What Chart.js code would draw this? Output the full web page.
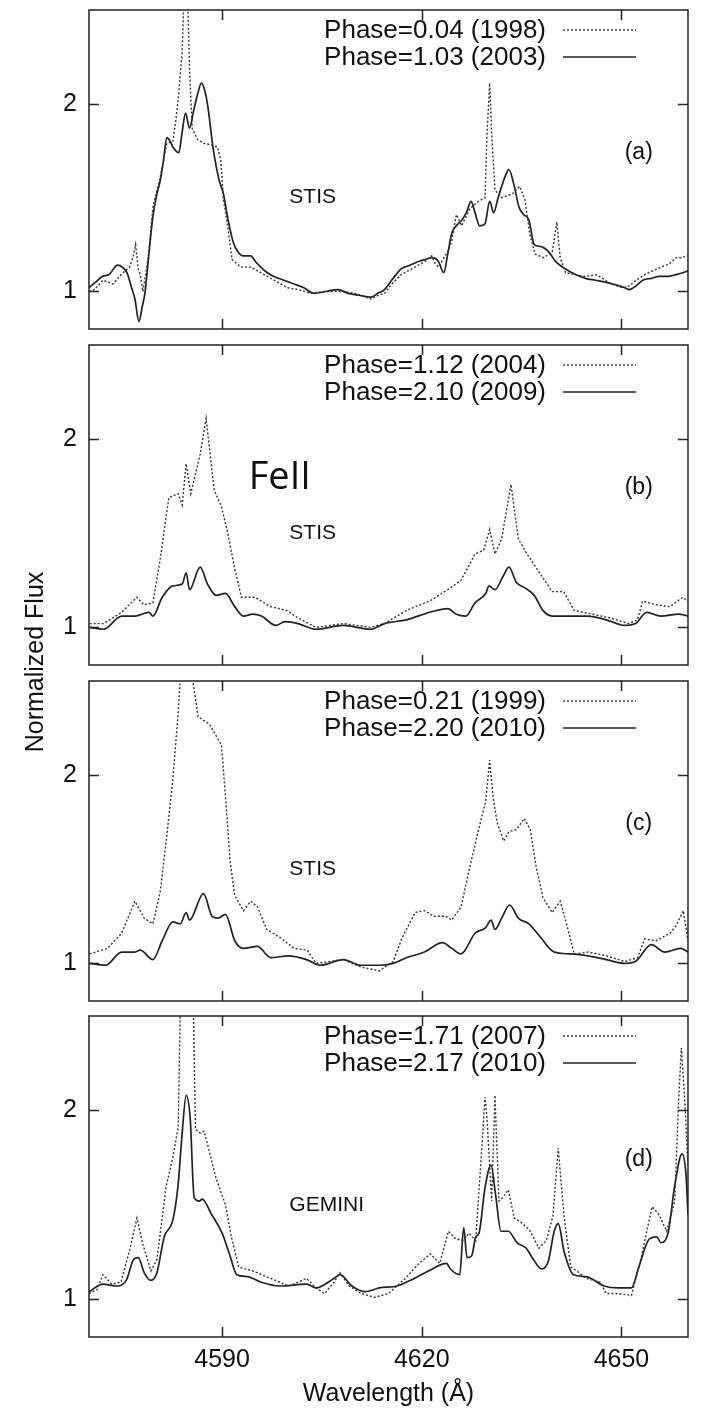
<!DOCTYPE html>
<html>
<head>
<meta charset="utf-8">
<title>Fe II spectra</title>
<script src="https://cdn.jsdelivr.net/npm/chart.js@4/dist/chart.umd.min.js"></script>
<style>
  html, body { margin: 0; padding: 0; background: #fff; }
  #figure { position: relative; width: 705px; height: 1409px; }
  #figure canvas { position: absolute; left: 0; top: 0; }
</style>
</head>
<body>
<div id="figure">
  <canvas id="panelA" width="705" height="1409"></canvas>
  <canvas id="panelB" width="705" height="1409"></canvas>
  <canvas id="panelC" width="705" height="1409"></canvas>
  <canvas id="panelD" width="705" height="1409"></canvas>
</div>
<script>
// axis ticks
const wavelengthTicks = [4590, 4620, 4650];
const fluxTicks = [1, 2];

// legend / panel text
const legendA = ['Phase=0.04 (1998)', 'Phase=1.03 (2003)'];
const legendB = ['Phase=1.12 (2004)', 'Phase=2.10 (2009)'];
const legendC = ['Phase=0.21 (1999)', 'Phase=2.20 (2010)'];
const legendD = ['Phase=1.71 (2007)', 'Phase=2.17 (2010)'];
const panelTags = ['(a)', '(b)', '(c)', '(d)'];
const instruments = ['STIS', 'STIS', 'STIS', 'GEMINI'];

// spectra: [wavelength (A), normalized flux]
const specA1998 = [
  [4570.0, 1.00], [4570.8, 1.01], [4572.1, 1.06], [4573.6, 1.04], [4575.1, 1.10], [4576.1, 1.13],
  [4576.6, 1.18], [4577.0, 1.25], [4577.4, 1.12], [4577.7, 1.09], [4578.1, 1.00], [4578.9, 1.18],
  [4579.6, 1.45], [4580.7, 1.61], [4581.7, 1.79], [4582.6, 1.80], [4583.0, 1.90], [4583.4, 2.02],
  [4584.0, 2.28], [4584.3, 2.60], [4584.6, 2.75], [4584.8, 2.60], [4585.1, 2.19], [4585.5, 1.87],
  [4586.3, 1.81], [4587.2, 1.79], [4588.5, 1.78], [4589.3, 1.77], [4589.8, 1.70], [4590.2, 1.49],
  [4590.8, 1.36], [4591.5, 1.17], [4592.8, 1.13], [4594.3, 1.13], [4595.8, 1.10], [4597.8, 1.06],
  [4599.8, 1.02], [4601.5, 1.01], [4603.3, 0.99], [4605.5, 1.00], [4608.0, 1.00], [4610.0, 0.99],
  [4611.5, 0.97], [4612.4, 0.96], [4613.5, 0.98], [4614.4, 0.99], [4615.5, 1.04], [4616.9, 1.09],
  [4618.5, 1.12], [4619.5, 1.14], [4620.5, 1.16], [4621.5, 1.19], [4622.0, 1.15], [4622.5, 1.13],
  [4624.0, 1.22], [4624.5, 1.27], [4625.2, 1.41], [4626.0, 1.35], [4627.2, 1.44], [4628.5, 1.48],
  [4629.5, 1.50], [4629.8, 1.84], [4630.2, 2.11], [4630.5, 1.84], [4631.0, 1.54], [4632.0, 1.50],
  [4633.6, 1.52], [4634.7, 1.56], [4635.5, 1.49], [4636.2, 1.31], [4637.0, 1.20], [4638.3, 1.18],
  [4639.6, 1.21], [4640.0, 1.30], [4640.3, 1.37], [4640.6, 1.25], [4640.8, 1.18], [4641.6, 1.10],
  [4643.0, 1.09], [4644.6, 1.08], [4646.2, 1.09], [4648.5, 1.04], [4650.2, 1.02], [4651.2, 1.03],
  [4652.2, 1.06], [4653.5, 1.09], [4654.7, 1.11], [4656.0, 1.13], [4657.3, 1.15], [4658.2, 1.18],
  [4659.0, 1.18], [4660.0, 1.19]
];
const specA2003 = [
  [4570.0, 1.02], [4571.0, 1.05], [4572.0, 1.08], [4573.0, 1.09], [4574.3, 1.14], [4575.0, 1.13],
  [4575.7, 1.10], [4576.4, 1.02], [4576.9, 0.96], [4577.5, 0.84], [4578.0, 0.92], [4578.4, 0.99],
  [4579.0, 1.20], [4579.6, 1.40], [4580.2, 1.52], [4580.7, 1.59], [4581.2, 1.70], [4581.7, 1.82],
  [4582.2, 1.80], [4582.6, 1.77], [4583.5, 1.74], [4584.0, 1.85], [4584.5, 1.95], [4585.1, 1.87],
  [4585.7, 1.96], [4586.3, 2.05], [4586.9, 2.11], [4587.4, 2.07], [4587.8, 2.00], [4588.7, 1.75],
  [4589.5, 1.60], [4590.2, 1.52], [4590.9, 1.38], [4591.7, 1.26], [4592.4, 1.21], [4593.1, 1.19],
  [4594.3, 1.19], [4595.0, 1.16], [4595.8, 1.13], [4596.8, 1.10], [4597.8, 1.08], [4599.3, 1.06],
  [4600.8, 1.04], [4602.3, 1.02], [4603.8, 0.99], [4605.6, 1.00], [4607.4, 1.01], [4609.0, 0.99],
  [4610.5, 0.98], [4612.4, 0.97], [4613.4, 0.99], [4614.4, 1.01], [4615.7, 1.07], [4616.9, 1.12],
  [4618.2, 1.14], [4619.5, 1.16], [4620.5, 1.17], [4621.5, 1.18], [4622.5, 1.16], [4623.3, 1.10],
  [4623.9, 1.20], [4624.5, 1.31], [4625.2, 1.35], [4626.0, 1.38], [4626.7, 1.42], [4627.4, 1.48],
  [4628.0, 1.42], [4628.7, 1.35], [4629.5, 1.36], [4630.2, 1.48], [4630.8, 1.42], [4631.4, 1.49],
  [4632.0, 1.56], [4632.6, 1.62], [4633.1, 1.65], [4633.9, 1.56], [4634.6, 1.45], [4635.3, 1.41],
  [4636.1, 1.38], [4636.9, 1.25], [4637.8, 1.24], [4639.1, 1.21], [4640.1, 1.16], [4641.6, 1.12],
  [4643.1, 1.09], [4644.6, 1.07], [4646.1, 1.06], [4647.6, 1.05], [4648.6, 1.04], [4649.7, 1.03],
  [4650.5, 1.02], [4651.2, 1.01], [4652.2, 1.03], [4653.2, 1.06], [4654.5, 1.07], [4655.7, 1.08],
  [4657.0, 1.08], [4658.2, 1.09], [4659.2, 1.10], [4660.0, 1.11]
];
const specB2004 = [
  [4570.1, 1.02], [4572.2, 1.02], [4574.9, 1.08], [4577.2, 1.16], [4578.2, 1.12], [4579.6, 1.13],
  [4580.6, 1.34], [4582.0, 1.69], [4583.4, 1.71], [4584.0, 1.65], [4584.6, 1.87], [4585.3, 1.71],
  [4586.7, 1.92], [4587.6, 2.11], [4588.8, 1.73], [4589.9, 1.64], [4590.8, 1.51], [4591.9, 1.31],
  [4592.9, 1.16], [4594.9, 1.16], [4597.3, 1.11], [4599.7, 1.09], [4601.4, 1.05], [4604.1, 1.00],
  [4608.2, 1.02], [4612.3, 1.00], [4614.4, 1.02], [4617.7, 1.09], [4621.2, 1.14], [4623.9, 1.20],
  [4625.9, 1.25], [4628.0, 1.39], [4629.3, 1.41], [4630.2, 1.52], [4631.0, 1.39], [4632.0, 1.47],
  [4633.4, 1.76], [4634.5, 1.47], [4635.8, 1.39], [4637.5, 1.30], [4639.6, 1.19], [4641.3, 1.19],
  [4642.9, 1.09], [4645.6, 1.07], [4648.3, 1.05], [4651.1, 1.02], [4652.4, 1.04], [4653.2, 1.14],
  [4655.2, 1.12], [4657.3, 1.11], [4659.2, 1.16], [4660.0, 1.14]
];
const specB2009 = [
  [4570.1, 1.00], [4572.2, 0.99], [4574.9, 1.06], [4576.9, 1.06], [4579.0, 1.08], [4579.6, 1.06],
  [4581.0, 1.16], [4582.6, 1.22], [4584.0, 1.23], [4584.6, 1.29], [4585.1, 1.20], [4586.7, 1.32],
  [4587.8, 1.23], [4589.1, 1.17], [4590.5, 1.18], [4591.9, 1.11], [4593.2, 1.06], [4594.6, 1.07],
  [4595.9, 1.06], [4598.1, 1.01], [4599.4, 1.03], [4601.4, 1.02], [4604.1, 0.99], [4608.2, 1.01],
  [4612.3, 0.99], [4614.4, 1.02], [4617.7, 1.04], [4621.2, 1.08], [4623.9, 1.10], [4625.2, 1.07],
  [4626.6, 1.06], [4628.0, 1.13], [4629.6, 1.18], [4630.1, 1.22], [4631.0, 1.20], [4632.2, 1.27],
  [4633.1, 1.32], [4634.2, 1.24], [4635.5, 1.21], [4636.9, 1.17], [4638.2, 1.09], [4639.6, 1.06],
  [4642.3, 1.06], [4645.0, 1.06], [4647.7, 1.04], [4650.5, 1.01], [4652.1, 1.02], [4653.8, 1.08],
  [4655.9, 1.06], [4658.6, 1.07], [4660.0, 1.06]
];
const specC1999 = [
  [4570.1, 1.05], [4572.8, 1.08], [4574.9, 1.16], [4576.9, 1.33], [4578.3, 1.24], [4579.6, 1.21],
  [4580.7, 1.38], [4581.7, 1.68], [4582.6, 1.98], [4583.4, 2.33], [4583.9, 2.62], [4585.1, 2.62],
  [4586.4, 2.31], [4588.1, 2.27], [4589.9, 2.16], [4590.5, 1.89], [4591.2, 1.54], [4591.9, 1.36],
  [4593.2, 1.28], [4594.3, 1.33], [4595.3, 1.30], [4596.7, 1.18], [4598.6, 1.14], [4600.8, 1.08],
  [4602.8, 1.07], [4604.1, 1.00], [4608.2, 1.02], [4610.9, 0.98], [4613.6, 0.96], [4615.7, 1.01],
  [4617.1, 1.14], [4619.0, 1.27], [4620.4, 1.28], [4621.8, 1.25], [4623.6, 1.25], [4624.5, 1.23],
  [4625.9, 1.30], [4627.2, 1.51], [4628.6, 1.72], [4629.6, 1.86], [4630.2, 2.08], [4630.7, 1.89],
  [4631.3, 1.75], [4632.3, 1.65], [4633.1, 1.70], [4634.2, 1.71], [4635.4, 1.77], [4636.3, 1.71],
  [4637.2, 1.51], [4638.2, 1.35], [4639.6, 1.27], [4640.8, 1.33], [4641.6, 1.23], [4642.9, 1.05],
  [4645.0, 1.06], [4647.7, 1.04], [4650.5, 1.01], [4652.4, 1.03], [4653.5, 1.13], [4655.2, 1.12],
  [4657.3, 1.16], [4658.2, 1.20], [4659.3, 1.28], [4660.0, 1.12]
];
const specC2010 = [
  [4570.1, 1.00], [4572.5, 0.99], [4574.9, 1.06], [4576.9, 1.06], [4577.7, 1.07], [4579.6, 1.02],
  [4581.0, 1.12], [4582.6, 1.22], [4583.7, 1.21], [4584.6, 1.27], [4585.1, 1.23], [4587.2, 1.37],
  [4588.5, 1.25], [4589.4, 1.24], [4590.5, 1.26], [4591.9, 1.12], [4593.2, 1.08], [4595.3, 1.09],
  [4597.3, 1.03], [4600.0, 1.04], [4602.7, 1.02], [4604.8, 0.99], [4608.2, 1.02], [4610.9, 0.99],
  [4613.6, 0.99], [4615.7, 1.00], [4617.7, 1.03], [4620.4, 1.06], [4623.1, 1.11], [4624.5, 1.08],
  [4625.9, 1.05], [4628.0, 1.16], [4629.6, 1.19], [4630.4, 1.23], [4631.0, 1.18], [4632.0, 1.24],
  [4633.2, 1.31], [4634.5, 1.24], [4636.1, 1.21], [4637.8, 1.14], [4639.9, 1.06], [4642.3, 1.05],
  [4645.0, 1.04], [4647.7, 1.02], [4650.5, 1.00], [4652.1, 1.01], [4654.5, 1.10], [4656.5, 1.06],
  [4658.9, 1.08], [4660.0, 1.06]
];
const specD2007 = [
  [4570.0, 1.03], [4571.2, 1.05], [4572.1, 1.13], [4573.4, 1.08], [4574.8, 1.09], [4576.1, 1.26],
  [4577.2, 1.43], [4578.1, 1.29], [4579.3, 1.15], [4580.2, 1.21], [4581.6, 1.60], [4582.6, 1.75],
  [4583.4, 1.91], [4583.8, 2.70], [4585.6, 2.70], [4586.0, 1.90], [4586.7, 1.88], [4587.3, 1.89],
  [4588.1, 1.78], [4589.1, 1.64], [4590.5, 1.50], [4591.4, 1.33], [4592.5, 1.17], [4594.6, 1.15],
  [4597.3, 1.11], [4600.0, 1.07], [4602.7, 1.11], [4604.1, 1.06], [4605.4, 1.03], [4606.8, 1.09],
  [4607.7, 1.14], [4609.1, 1.07], [4610.9, 1.03], [4612.9, 1.01], [4615.0, 1.03], [4617.5, 1.11],
  [4619.6, 1.19], [4621.3, 1.24], [4622.7, 1.19], [4624.0, 1.36], [4625.1, 1.32], [4626.2, 1.31],
  [4627.1, 1.35], [4628.1, 1.31], [4629.0, 1.79], [4629.5, 2.07], [4629.8, 1.96], [4630.5, 1.52],
  [4631.0, 2.08], [4631.6, 1.52], [4632.2, 1.54], [4633.0, 1.58], [4633.9, 1.43], [4635.2, 1.40],
  [4636.3, 1.36], [4637.6, 1.27], [4638.7, 1.31], [4639.7, 1.44], [4640.5, 1.80], [4641.4, 1.43],
  [4642.4, 1.17], [4643.3, 1.15], [4644.7, 1.11], [4646.8, 1.09], [4647.7, 1.03], [4649.5, 1.03],
  [4651.5, 1.02], [4652.9, 1.21], [4654.6, 1.49], [4655.6, 1.45], [4656.8, 1.36], [4658.0, 1.52],
  [4658.6, 2.06], [4659.0, 2.33], [4659.5, 2.06], [4660.0, 1.70]
];
const specD2010 = [
  [4570.0, 1.04], [4572.1, 1.08], [4574.2, 1.07], [4575.6, 1.10], [4576.7, 1.21], [4577.4, 1.22],
  [4578.3, 1.14], [4579.3, 1.10], [4580.2, 1.14], [4581.3, 1.33], [4582.6, 1.42], [4583.4, 1.61],
  [4584.0, 1.88], [4584.6, 2.08], [4585.2, 1.96], [4585.8, 1.54], [4586.6, 1.52], [4587.0, 1.53],
  [4588.4, 1.45], [4590.0, 1.35], [4591.1, 1.24], [4592.2, 1.13], [4593.8, 1.12], [4595.9, 1.09],
  [4598.6, 1.07], [4602.7, 1.08], [4604.1, 1.06], [4606.8, 1.11], [4607.7, 1.13], [4609.5, 1.07],
  [4611.5, 1.04], [4613.6, 1.06], [4616.3, 1.07], [4618.3, 1.10], [4621.0, 1.15], [4623.7, 1.19],
  [4624.3, 1.16], [4625.7, 1.13], [4626.3, 1.38], [4626.8, 1.22], [4627.5, 1.23], [4628.1, 1.33],
  [4628.6, 1.35], [4629.5, 1.59], [4630.4, 1.71], [4631.1, 1.55], [4631.9, 1.36], [4633.0, 1.36],
  [4634.3, 1.30], [4635.7, 1.27], [4636.6, 1.22], [4638.0, 1.16], [4639.0, 1.20], [4639.9, 1.36],
  [4640.5, 1.40], [4641.4, 1.25], [4642.8, 1.13], [4644.7, 1.12], [4647.4, 1.07], [4649.5, 1.06],
  [4651.5, 1.06], [4652.6, 1.17], [4654.2, 1.32], [4655.3, 1.33], [4655.9, 1.30], [4657.0, 1.35],
  [4658.0, 1.60], [4659.1, 1.77], [4659.7, 1.66], [4660.0, 1.45]
];

// panel placement on the page (plot-area top / bottom in px)
const panels = [
  { id: 'panelA', top: 10, bottom: 329, legend: legendA, dotted: specA1998, solid: specA2003 },
  { id: 'panelB', top: 345, bottom: 665, legend: legendB, dotted: specB2004, solid: specB2009 },
  { id: 'panelC', top: 681, bottom: 1001, legend: legendC, dotted: specC1999, solid: specC2010 },
  { id: 'panelD', top: 1016, bottom: 1337, legend: legendD, dotted: specD2007, solid: specD2010 }
];

const FONT = '"Liberation Sans", Arial, Helvetica, sans-serif';
const INK = '#111';

// gnuplot-like frame with inward ticks on all four sides
const framePlugin = {
  id: 'frame',
  afterDatasetsDraw(chart) {
    const { ctx, chartArea: a, scales } = chart;
    ctx.save();
    ctx.strokeStyle = '#222';
    ctx.lineWidth = 1.5;
    ctx.strokeRect(a.left, a.top, a.right - a.left, a.bottom - a.top);
    ctx.beginPath();
    wavelengthTicks.forEach(v => {
      const x = Math.round(scales.x.getPixelForValue(v)) + 0.5;
      ctx.moveTo(x, a.bottom); ctx.lineTo(x, a.bottom - 10);
      ctx.moveTo(x, a.top); ctx.lineTo(x, a.top + 10);
    });
    fluxTicks.forEach(v => {
      const y = Math.round(scales.y.getPixelForValue(v)) + 0.5;
      ctx.moveTo(a.left, y); ctx.lineTo(a.left + 10, y);
      ctx.moveTo(a.right, y); ctx.lineTo(a.right - 10, y);
    });
    ctx.stroke();
    ctx.restore();
  }
};

// key: text right-aligned, line sample to its right
const keyPlugin = {
  id: 'key',
  afterDraw(chart) {
    const { ctx, chartArea: a } = chart;
    ctx.save();
    ctx.font = '26px ' + FONT;
    ctx.textAlign = 'right';
    ctx.textBaseline = 'middle';
    ctx.fillStyle = INK;
    chart.data.datasets.forEach((ds, i) => {
      const y = a.top + 20 + i * 27;
      ctx.fillText(ds.label, a.right - 142, y + 1);
      ctx.strokeStyle = ds.borderColor;
      ctx.lineWidth = ds.borderWidth;
      ctx.setLineDash(ds.borderDash || []);
      ctx.beginPath();
      ctx.moveTo(a.right - 125, y);
      ctx.lineTo(a.right - 52, y);
      ctx.stroke();
    });
    ctx.restore();
  }
};

// in-plot text labels placed in data coordinates
const notePlugin = {
  id: 'notes',
  afterDraw(chart, args, opts) {
    const { ctx, scales } = chart;
    ctx.save();
    ctx.fillStyle = INK;
    ctx.textBaseline = 'middle';
    (opts.items || []).forEach(n => {
      ctx.font = n.font;
      ctx.textAlign = n.align || 'left';
      ctx.fillText(n.text, scales.x.getPixelForValue(n.x), scales.y.getPixelForValue(n.y));
    });
    if (opts.yTitle) {
      ctx.font = '25px ' + FONT;
      ctx.textAlign = 'center';
      ctx.translate(36, 662);
      ctx.rotate(-Math.PI / 2);
      ctx.fillText(opts.yTitle, 0, 0);
    }
    ctx.restore();
  }
};

function toPoints(spec) {
  return spec.map(p => ({ x: p[0], y: p[1] }));
}

panels.forEach((p, i) => {
  const last = i === panels.length - 1;
  const notes = [
    { text: panelTags[i], x: 4652.6, y: 1.74, font: '23px ' + FONT, align: 'center' },
    { text: instruments[i], x: 4600.1, y: 1.50, font: '21px ' + FONT }
  ];
  if (i === 1) notes.push({ text: 'FeII', x: 4594.0, y: 1.79, font: '38px "Open Sans", "Noto Sans", sans-serif' });

  new Chart(document.getElementById(p.id), {
    type: 'line',
    data: {
      datasets: [
        {
          label: p.legend[0],
          data: toPoints(p.dotted),
          borderColor: '#333',
          borderWidth: 1.4,
          borderDash: [2, 2],
          pointRadius: 0,
          tension: 0,
          fill: false
        },
        {
          label: p.legend[1],
          data: toPoints(p.solid),
          borderColor: '#222',
          borderWidth: 1.7,
          pointRadius: 0,
          cubicInterpolationMode: 'monotone',
          fill: false
        }
      ]
    },
    options: {
      responsive: false,
      animation: false,
      devicePixelRatio: 1,
      events: [],
      layout: { padding: { top: p.top, bottom: last ? 0 : 1409 - p.bottom, left: 0, right: 17 } },
      plugins: {
        legend: { display: false },
        tooltip: { enabled: false },
        notes: { items: notes, yTitle: last ? 'Normalized Flux' : null }
      },
      scales: {
        x: {
          type: 'linear',
          min: 4570,
          max: 4660,
          display: last,
          afterBuildTicks: s => { s.ticks = wavelengthTicks.map(v => ({ value: v })); },
          afterFit: s => { s.height = last ? 72 : 0; s.paddingLeft = 0; s.paddingRight = 0; },
          grid: { display: false, drawTicks: false },
          border: { display: false },
          ticks: {
            padding: 8,
            color: INK,
            font: { family: FONT, size: 25 },
            callback: v => String(v)
          },
          title: {
            display: last,
            text: 'Wavelength (Å)',
            color: INK,
            font: { family: FONT, size: 25 },
            padding: { top: 0, bottom: 0 }
          }
        },
        y: {
          min: 0.8,
          max: 2.5,
          afterBuildTicks: s => { s.ticks = fluxTicks.map(v => ({ value: v })); },
          afterFit: s => { s.width = 89; s.paddingTop = 0; s.paddingBottom = 0; },
          grid: { display: false, drawTicks: false },
          border: { display: false },
          ticks: { padding: 12, color: INK, font: { family: FONT, size: 25 } }
        }
      }
    },
    plugins: [framePlugin, keyPlugin, notePlugin]
  });
});
</script>
</body>
</html>
